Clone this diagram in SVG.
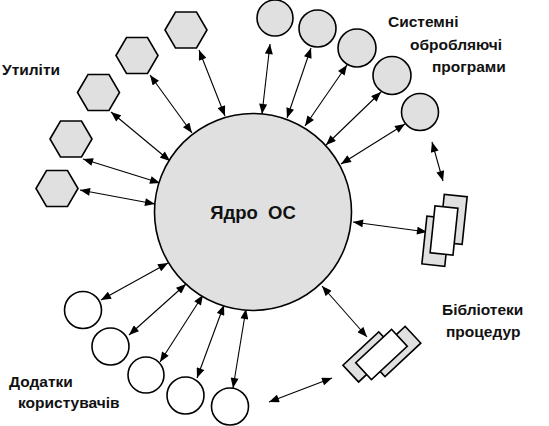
<svg xmlns="http://www.w3.org/2000/svg" width="549" height="426" viewBox="0 0 549 426">
<style>
.k{fill:#e0e0e0;stroke:#000;stroke-width:1.6}
.w{fill:#fff;stroke:#000;stroke-width:1.6}
.a{stroke:#000;stroke-width:1.1;fill:none;marker-start:url(#ah);marker-end:url(#ah)}
.t{font-family:"Liberation Sans",Arial,sans-serif;font-weight:bold;font-size:15.5px;fill:#111}
</style>
<defs>
<marker id="ah" viewBox="0 0 10 8" refX="10" refY="4" markerWidth="11" markerHeight="8" markerUnits="userSpaceOnUse" orient="auto-start-reverse">
<path d="M0,0 L10,4 L0,8 Z" fill="#000"/>
</marker>
<polygon id="hex" points="-21,0 -10.5,-18 10.5,-18 21,0 10.5,18 -10.5,18"/>
</defs>
<rect width="549" height="426" fill="#fff"/>
<g id="connectors">
<line class="a" x1="199" y1="50" x2="225" y2="116"/>
<line class="a" x1="150" y1="75" x2="192" y2="133"/>
<line class="a" x1="111" y1="112" x2="170" y2="161"/>
<line class="a" x1="83" y1="159" x2="160" y2="183"/>
<line class="a" x1="80" y1="190" x2="155" y2="204"/>
<line class="a" x1="270" y1="44" x2="262" y2="114"/>
<line class="a" x1="311" y1="48" x2="287" y2="118"/>
<line class="a" x1="347" y1="65" x2="305" y2="126"/>
<line class="a" x1="381" y1="92" x2="326" y2="145"/>
<line class="a" x1="405" y1="124" x2="341" y2="164"/>
<line class="a" x1="432" y1="142" x2="443" y2="181"/>
<line class="a" x1="353" y1="222" x2="427" y2="232"/>
<line class="a" x1="322" y1="286" x2="367" y2="337"/>
<line class="a" x1="269" y1="402" x2="332" y2="378"/>
<line class="a" x1="101" y1="300" x2="168" y2="263"/>
<line class="a" x1="129" y1="335" x2="186" y2="284"/>
<line class="a" x1="160" y1="362" x2="203" y2="295"/>
<line class="a" x1="197" y1="378" x2="224" y2="305"/>
<line class="a" x1="233" y1="388" x2="246" y2="309"/>
</g>
<g id="kernel">
<circle class="k" cx="253" cy="212" r="98.5"/>
<text x="253" y="219" text-anchor="middle" xml:space="preserve" style="font-family:'Liberation Sans',Arial,sans-serif;font-weight:bold;font-size:18.5px;fill:#111">Ядро  ОС</text>
</g>
<g id="utilities">
<use href="#hex" class="k" x="186" y="30"/>
<use href="#hex" class="k" x="137" y="55.5"/>
<use href="#hex" class="k" x="98.5" y="92.5"/>
<use href="#hex" class="k" x="71" y="139"/>
<use href="#hex" class="k" x="57" y="188.5"/>
</g>
<g id="system-programs">
<circle class="k" cx="275" cy="18" r="18"/>
<circle class="k" cx="317.5" cy="28.5" r="18.5"/>
<circle class="k" cx="357" cy="48" r="19"/>
<circle class="k" cx="392" cy="75.5" r="19"/>
<circle class="k" cx="420" cy="112" r="18.5"/>
</g>
<g id="library-1" transform="translate(444,230.5) rotate(6)">
<rect class="k" x="-3.5" y="-36" width="23" height="48"/>
<rect class="k" x="-18.5" y="-12.5" width="23" height="48"/>
<rect class="w" x="-11.5" y="-23.5" width="23" height="47"/>
</g>
<g id="library-2" transform="translate(381.5,354.5) rotate(-43)">
<rect class="k" x="-12.5" y="-4.5" width="49" height="23"/>
<rect class="k" x="-35.5" y="-18.5" width="49" height="23"/>
<rect class="w" x="-24.5" y="-11.5" width="49" height="23"/>
</g>
<g id="user-apps">
<circle class="w" cx="83" cy="310" r="18.5"/>
<circle class="w" cx="110.5" cy="346.5" r="18.5"/>
<circle class="w" cx="146" cy="375" r="18"/>
<circle class="w" cx="185.5" cy="395.5" r="18.5"/>
<circle class="w" cx="230" cy="406.5" r="18.5"/>
</g>
<g id="labels">
<text class="t" x="2" y="75">Утиліти</text>
<text class="t" x="388" y="27">Системні</text>
<text class="t" x="410" y="50">обробляючі</text>
<text class="t" x="432" y="72">програми</text>
<text class="t" x="442" y="315">Бібліотеки</text>
<text class="t" x="446" y="337">процедур</text>
<text class="t" x="9" y="387">Додатки</text>
<text class="t" x="18" y="408">користувачів</text>
</g>
</svg>
